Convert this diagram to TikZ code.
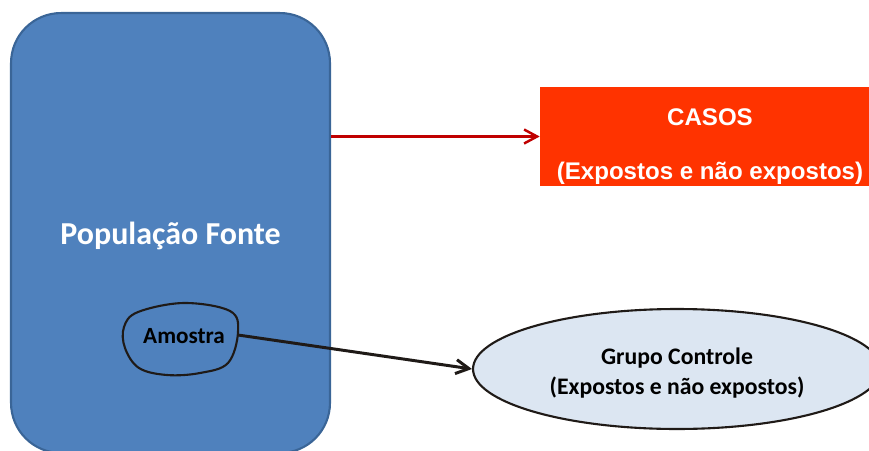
\documentclass[tikz,border=0pt]{standalone}
\usepackage{fontspec}
\setmainfont{Carlito}
\newfontfamily\arialfont{Liberation Sans}
\usetikzlibrary{arrows.meta}
\usetikzlibrary{shapes.geometric}
\usetikzlibrary{positioning}

\definecolor{fonteblue}{HTML}{4F81BD}
\definecolor{fonteedge}{HTML}{3A6597}
\definecolor{casosred}{HTML}{FF3300}
\definecolor{arrowred}{HTML}{C00000}
\definecolor{controlefill}{HTML}{DCE6F2}
\definecolor{inkdark}{HTML}{1F1A17}

\tikzset{
  fonte/.style={rectangle, rounded corners=1cm, draw=fonteedge, line width=1.2pt,
    fill=fonteblue, minimum width=6.38cm, minimum height=8.8cm, inner sep=0pt,
    text=white, text depth=0pt, font=\bfseries\fontsize{18.2}{22}\selectfont},
  casosbox/.style={rectangle, fill=casosred, minimum width=6.8cm, minimum height=1.98cm, inner sep=0pt},
  casostext/.style={align=center, text=white, font=\arialfont\bfseries\fontsize{13.7}{16.4}\selectfont},
  controle/.style={ellipse, draw=inkdark, line width=1.2pt, fill=controlefill,
    minimum width=8.16cm, minimum height=2.4cm, inner sep=0pt},
  controletext/.style={align=center, font=\bfseries\fontsize{13.5}{17.5}\selectfont},
  sample/.style={font=\bfseries\fontsize{13.2}{16}\selectfont, inner sep=0pt},
  blob/.style={draw=inkdark, line width=1.2pt},
  linkred/.style={draw=arrowred, line width=1.4pt, -{Straight Barb[length=0.26cm, width=0.28cm]}},
  linkdark/.style={draw=inkdark, line width=1.7pt, -{Straight Barb[length=0.26cm, width=0.28cm]}}
}

\begin{document}
\begin{tikzpicture}[x=0.02cm, y=-0.02cm]
\useasboundingbox (0,0) rectangle (869,450);
\clip (0,0) rectangle (869,450);

% populacao fonte
\node[fonte] (fonte) at (170.5,233) {População Fonte};

% casos
\node[casosbox] (casos) at (710,136.5) {};
\node[casostext] (casos-t) at ([yshift=-0.2cm]casos.center) {CASOS\\[0.52cm](Expostos e não expostos)};
\draw[linkred] (fonte.east |- casos.west) -- (casos.west);

% amostra
\node[sample] (amostra) at (184,336) {Amostra};
\draw[blob, shift={(amostra.center)}] plot[smooth cycle, tension=0.6] coordinates
  {(0,-33) (46,-25) (54,-4) (44,27) (16,37) (-17,39) (-45,32) (-59,12) (-60,-9) (-46,-24)};
\coordinate (amostra-e) at (238,335);

% grupo controle
\node[controle] (controle) at (677,369) {};
\node[controletext] (controle-t) at ([yshift=-0.08cm]controle.center) {Grupo Controle\\(Expostos e não expostos)};
\draw[linkdark] (amostra-e) -- (controle.west);
\end{tikzpicture}
\end{document}
